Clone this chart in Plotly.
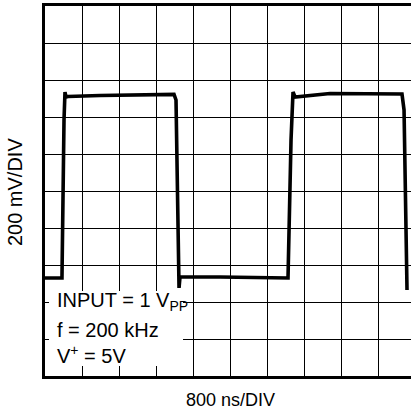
import plotly.graph_objects as go

# Scope trace: time in microseconds, amplitude in millivolts
time_us = [0.000, 0.366, 0.410, 0.431, 0.453, 0.496, 1.186, 2.049, 2.782, 2.825,
           2.868, 2.890, 2.911, 3.774, 5.240, 5.305, 5.348, 5.391, 6.146, 7.698,
           7.742, 7.806, 7.806]
signal_mv = [-470, -470, 384, 535, 508, 511, 516, 519, 522, 492,
             -427, -524, -465, -465, -470, 276, 535, 508, 527, 524,
             438, -497, -535]

# Screen scales
time_per_div = 0.8      # 800 ns/DIV
volt_per_div = 200      # 200 mV/DIV
x_label = "800 ns/DIV"
y_label = "200 mV/DIV"
conditions = ["INPUT = 1 V<sub>PP</sub>", "f = 200 kHz", "V<sup>+</sup> = 5V"]
condition_levels = [-595, -751, -886]

FONT = "Liberation Sans, Arial, Helvetica, sans-serif"

fig = go.Figure()
fig.add_trace(go.Scatter(
    x=time_us, y=signal_mv, mode="lines",
    line=dict(color="black", width=3.6, shape="linear"),
    hoverinfo="skip", showlegend=False,
))

# White panel behind the test conditions
fig.add_shape(type="rect", xref="x", yref="y",
              x0=0.086, x1=2.976, y0=-946, y1=-541,
              fillcolor="white", line=dict(width=0), layer="between")

for text, lvl in zip(conditions, condition_levels):
    fig.add_annotation(x=0.205, y=lvl, xref="x", yref="y", text=text,
                       showarrow=False, xanchor="left", yanchor="middle",
                       font=dict(family=FONT, size=20, color="black"))

fig.add_annotation(x=0.508, y=-0.065, xref="paper", yref="paper", text=x_label,
                   showarrow=False, xanchor="center", yanchor="middle",
                   font=dict(family=FONT, size=18, color="black"))
fig.add_annotation(x=-0.082, y=0.497, xref="paper", yref="paper", text=y_label,
                   showarrow=False, xanchor="center", yanchor="middle", textangle=-90,
                   font=dict(family=FONT, size=20, color="black"))

fig.update_xaxes(range=[0, 9.865 * time_per_div], tick0=0, dtick=time_per_div,
                 showgrid=True, gridcolor="black", gridwidth=1.2,
                 showline=True, linecolor="black", linewidth=2.5, mirror=True,
                 showticklabels=False, ticks="", zeroline=False, fixedrange=True)
fig.update_yaxes(range=[-5 * volt_per_div, 5 * volt_per_div], tick0=-1000, dtick=volt_per_div,
                 showgrid=True, gridcolor="black", gridwidth=1.2,
                 showline=True, linecolor="black", linewidth=2.5, mirror=False,
                 showticklabels=False, ticks="", zeroline=False, fixedrange=True)

fig.update_layout(
    width=411, height=417,
    margin=dict(l=45, r=0, t=6, b=41),
    paper_bgcolor="white", plot_bgcolor="white",
    showlegend=False,
)

fig.write_html("out.html", config={"displayModeBar": False})
